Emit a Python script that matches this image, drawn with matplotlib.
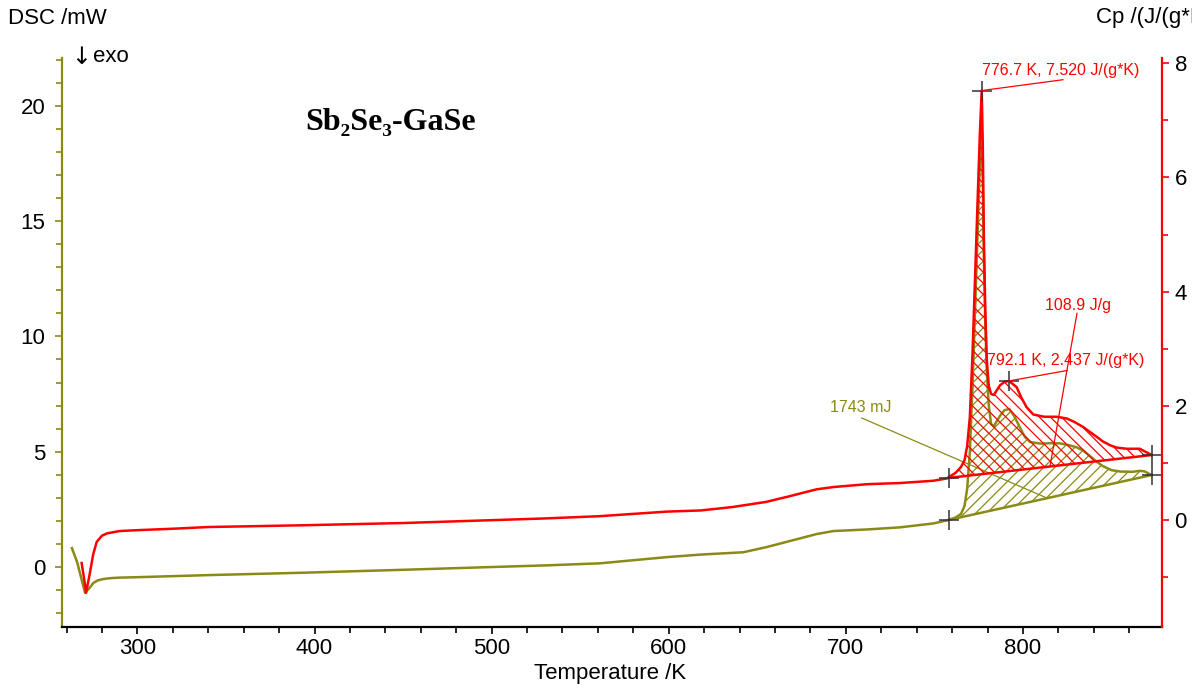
import matplotlib.pyplot as plt
from matplotlib.ticker import MultipleLocator
import numpy as np

OLIVE = '#8a8a16'
RED = '#ff0000'
plt.rcParams['font.family'] = ['Liberation Sans', 'DejaVu Sans']
plt.rcParams['hatch.linewidth'] = 0.9

# DSC signal /mW (left axis)
dsc_temp = [263, 266, 268.5, 270.4, 273, 275, 277.5, 280.7, 285, 290, 300, 340, 392, 450,
            500, 530, 561, 599, 618, 642, 655, 667, 683.5, 693, 712, 730.5, 749.4, 757,
            762, 765, 767, 768.5, 770, 771.5, 773, 774.5, 775.7, 776.5, 777.3, 777.9,
            778.7, 779.6, 780.7, 782, 783.5, 787, 789.5, 792.3, 795, 798.3, 801, 804,
            810, 816, 821, 826, 830, 834, 838, 841.6, 845, 850, 855, 862, 866, 868.5,
            870.5, 872.7]
dsc_mw = [0.82, 0.2, -0.55, -1.12, -0.9, -0.7, -0.58, -0.52, -0.48, -0.46, -0.44, -0.35,
          -0.25, -0.12, 0.0, 0.07, 0.16, 0.43, 0.54, 0.64, 0.86, 1.10, 1.43, 1.56, 1.63,
          1.72, 1.89, 2.02, 2.15, 2.3, 2.65, 3.4, 5.0, 7.8, 11.2, 14.8, 17.6, 19.0, 16.8,
          13.6, 10.6, 8.4, 7.0, 6.2, 6.1, 6.55, 6.8, 6.85, 6.55, 6.05, 5.65, 5.42, 5.35,
          5.37, 5.36, 5.28, 5.2, 5.05, 4.8, 4.57, 4.38, 4.2, 4.14, 4.13, 4.17, 4.15,
          4.07, 3.99]

# Cp /(J/(g*K)) (right axis)
cp_temp = [268.5, 270, 271, 273, 275, 277, 280, 283, 290, 300, 320, 340, 392, 450, 500,
           530, 561, 599, 618, 636, 655, 667, 683.5, 693, 712, 730.5, 749.4, 757, 762,
           765, 767, 768.5, 770, 771.5, 773, 774.5, 775.7, 776.7, 777.3, 777.9, 778.7,
           779.6, 780.7, 782, 783.5, 787, 789.5, 792.1, 796.4, 799, 802, 805.8, 812, 819,
           824.7, 829, 834, 838, 841.6, 845, 849.3, 853, 858.5, 862, 866, 869, 872.7]
cp_val = [-0.75, -1.05, -1.27, -0.95, -0.6, -0.38, -0.27, -0.23, -0.19, -0.175, -0.15,
          -0.12, -0.09, -0.05, 0.0, 0.03, 0.07, 0.15, 0.17, 0.23, 0.32, 0.41, 0.54, 0.58,
          0.63, 0.65, 0.69, 0.73, 0.83, 0.93, 1.05, 1.3, 1.8, 2.9, 4.3, 5.7, 6.8, 7.52,
          6.6, 5.0, 3.7, 2.8, 2.35, 2.21, 2.19, 2.36, 2.42, 2.437, 2.33, 2.15, 1.98, 1.85,
          1.81, 1.81, 1.78, 1.72, 1.63, 1.54, 1.46, 1.38, 1.31, 1.27, 1.25, 1.25, 1.25,
          1.2, 1.14]

# integration baselines
dsc_base_temp = [758.0, 872.7]
dsc_base_mw = [2.04, 3.99]
cp_base_temp = [758.0, 872.7]
cp_base_val = [0.74, 1.14]

# marked points
cp_peak_temp = [776.7, 792.1]
cp_peak_val = [7.52, 2.437]

fig = plt.figure(figsize=(11.92, 6.88), dpi=100)
ax = fig.add_axes([62 / 1192, 61 / 688, 1100 / 1192, 569 / 688])
ax2 = ax.twinx()

# DSC curve
t = np.array(dsc_temp)
v = np.array(dsc_mw)
ax.plot(t, v, color=OLIVE, lw=1.8)
ax.plot(dsc_base_temp, dsc_base_mw, color=OLIVE, lw=1.8)
seg = t >= dsc_base_temp[0]
base = np.interp(t[seg], dsc_base_temp, dsc_base_mw)
ax.fill_between(t[seg], v[seg], base, where=v[seg] >= base, facecolor='none',
                edgecolor=OLIVE, hatch='///', linewidth=0)
ax.plot(dsc_base_temp, dsc_base_mw, ls='none', marker='+', ms=14, mew=1.1, color='#333333')

# Cp curve
tc = np.array(cp_temp)
vc = np.array(cp_val)
ax2.plot(tc, vc, color=RED, lw=1.8)
ax2.plot(cp_base_temp, cp_base_val, color=RED, lw=1.8)
segc = tc >= cp_base_temp[0]
basec = np.interp(tc[segc], cp_base_temp, cp_base_val)
ax2.fill_between(tc[segc], vc[segc], basec, where=vc[segc] >= basec, facecolor='none',
                 edgecolor=RED, hatch='\\\\\\', linewidth=0)
ax2.plot(cp_base_temp, cp_base_val, ls='none', marker='+', ms=14, mew=1.1, color='#333333')
ax2.plot(cp_peak_temp, cp_peak_val, ls='none', marker='+', ms=14, mew=1.1, color='#333333')

# annotations with leader lines
ax2.plot([776.7, 822.6], [7.52, 7.71], color=RED, lw=0.9)
ax2.text(777, 7.87, '776.7 K, 7.520 J/(g*K)', color=RED, fontsize=11.5, va='center')
ax2.plot([792.1, 824.9], [2.437, 2.62], color=RED, lw=0.9)
ax2.text(779.7, 2.80, '792.1 K, 2.437 J/(g*K)', color=RED, fontsize=11.5, va='center')
ax2.plot([830.5, 815.3], [3.62, 0.95], color=RED, lw=0.9)
ax2.text(812.3, 3.76, '108.9 J/g', color=RED, fontsize=11.5, va='center')
ax.plot([709, 813.6], [6.46, 2.99], color=OLIVE, lw=0.9)
ax.text(691, 6.9, '1743 mJ', color=OLIVE, fontsize=11.5, va='center')

ax.text(0.221, 0.8875, 'Sb₂Se₃-GaSe', transform=ax.transAxes, fontsize=23,
        fontweight='bold', family=['Liberation Serif', 'DejaVu Serif'], va='center')

# axes styling
ax.set_xlim(257.4, 878.5)
ax.set_ylim(-2.6, 22.07)
ax2.set_ylim(-1.87, 8.09)
ax.xaxis.set_major_locator(MultipleLocator(100))
ax.xaxis.set_minor_locator(MultipleLocator(20))
ax.yaxis.set_major_locator(MultipleLocator(5))
ax.yaxis.set_minor_locator(MultipleLocator(1))
ax2.yaxis.set_major_locator(MultipleLocator(2))
ax2.yaxis.set_minor_locator(MultipleLocator(1))

for s in ['top', 'right']:
    ax.spines[s].set_visible(False)
for s in ['top', 'left', 'bottom']:
    ax2.spines[s].set_visible(False)
ax.spines['left'].set_color(OLIVE)
ax.spines['left'].set_linewidth(1.6)
ax.spines['bottom'].set_linewidth(1.6)
ax2.spines['right'].set_color(RED)
ax2.spines['right'].set_linewidth(1.6)

ax.tick_params(axis='x', which='major', length=5, width=1.2, pad=3, labelsize=16)
ax.tick_params(axis='x', which='minor', length=4, width=1.2)
ax.tick_params(axis='y', which='both', colors=OLIVE, labelcolor='black', width=1.2)
ax.tick_params(axis='y', which='major', length=5, pad=7, labelsize=16)
ax.tick_params(axis='y', which='minor', length=4)
ax2.tick_params(axis='y', which='both', colors=RED, labelcolor='black', width=1.2)
ax2.tick_params(axis='y', which='major', length=5, pad=4, labelsize=16)
ax2.tick_params(axis='y', which='minor', length=4)

fig.text(8 / 1192, 1 - 18 / 688, 'DSC /mW', fontsize=16, va='center')
fig.text(1096 / 1192, 1 - 18 / 688, 'Cp /(J/(g*K))', fontsize=16, va='center')
fig.text(71 / 1192, 1 - 57 / 688, '↓', fontsize=17, va='center', family='DejaVu Sans')
fig.text(93 / 1192, 1 - 57 / 688, 'exo', fontsize=16, va='center')
fig.text(610 / 1192, 1 - 673 / 688, 'Temperature /K', fontsize=16, ha='center', va='center')

fig.savefig('out.png', dpi=100)
